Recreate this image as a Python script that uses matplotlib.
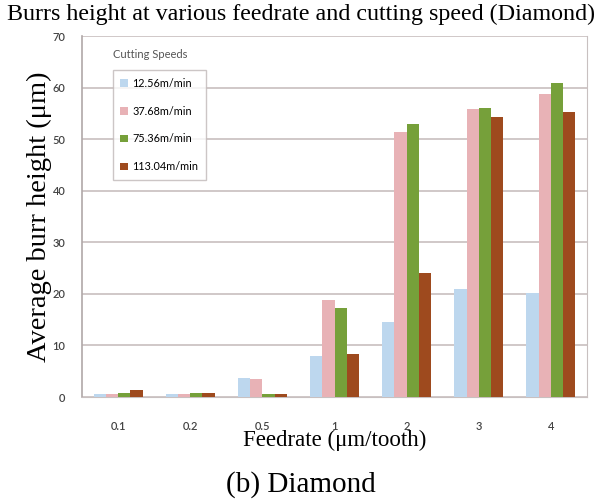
import matplotlib
matplotlib.use("Agg")
import matplotlib.pyplot as plt
import numpy as np

categories = ["0.1", "0.2", "0.5", "1", "2", "3", "4"]
series_names = ["12.56m/min", "37.68m/min", "75.36m/min", "113.04m/min"]
s1 = [0.5, 0.5, 3.6, 7.9, 14.6, 21.0, 20.2]
s2 = [0.5, 0.5, 3.4, 18.9, 51.3, 55.8, 58.8]
s3 = [0.7, 0.7, 0.5, 17.2, 53.0, 56.1, 60.8]
s4 = [1.4, 0.7, 0.5, 8.3, 24.1, 54.2, 55.3]
colors = ["#bdd7ee", "#e8b2b6", "#76a03a", "#9e4a1e"]

fig = plt.figure(figsize=(6.02, 5.03), dpi=100)
ax = fig.add_axes([82/602, 1-397/503, 505/602, 361/503])

x = np.arange(len(categories))
w = 0.17
for i, (vals, c, n) in enumerate(zip([s1, s2, s3, s4], colors, series_names)):
    ax.bar(x + (i - 1.5) * w, vals, width=w, color=c, label=n, zorder=3)

ax.set_xlim(-0.5, len(categories) - 0.5)
ax.set_ylim(0, 70)
ax.set_yticks(range(0, 71, 10))
ax.set_xticks(x)
ax.set_xticklabels(categories)
ax.yaxis.grid(True, color="#c8bfbf", linewidth=1.2, zorder=0)
ax.tick_params(axis="y", length=0, labelsize=8, colors="#444444", pad=12)
ax.tick_params(axis="x", length=0, labelsize=8, colors="#444444", pad=17)
for lab in ax.get_xticklabels() + ax.get_yticklabels():
    lab.set_fontfamily("Lato")
    lab.set_fontweight("semibold")
ax.spines["top"].set_visible(False)
ax.spines["left"].set_color("#b0a8a8")
ax.spines["right"].set_color("#c8c0c0")
ax.spines["bottom"].set_color("#c8c0c0")
ax.spines["left"].set_linewidth(1.2)

serif = "Liberation Serif"
ax.set_ylabel("Average burr height (μm)", fontfamily=serif, fontsize=20.5, labelpad=0)
ax.set_xlabel("Feedrate (μm/tooth)", fontfamily=serif, fontsize=16.5, labelpad=-1)
fig.text(0.5, 1-14/503, "Burrs height at various feedrate and cutting speed (Diamond)",
         ha="center", va="center", fontfamily=serif, fontsize=17.3)
fig.text(0.5, 1-485/503, "(b) Diamond", ha="center", va="center", fontfamily=serif, fontsize=21)

leg = ax.legend(loc="upper left", bbox_to_anchor=(0.05, 0.92),
                prop={"family": "Lato", "size": 7.8},
                handlelength=0.7, handleheight=0.7, frameon=True, fancybox=False,
                borderpad=0.7, labelspacing=1.55, handletextpad=0.4)
leg.get_frame().set_edgecolor("#c0b8b8")
leg.get_frame().set_linewidth(1.0)
ax.text(0.061, 0.948, "Cutting Speeds", transform=ax.transAxes, fontsize=8,
        fontfamily="Lato", color="#555555", ha="left", va="center")

fig.savefig("out.png", dpi=100)
